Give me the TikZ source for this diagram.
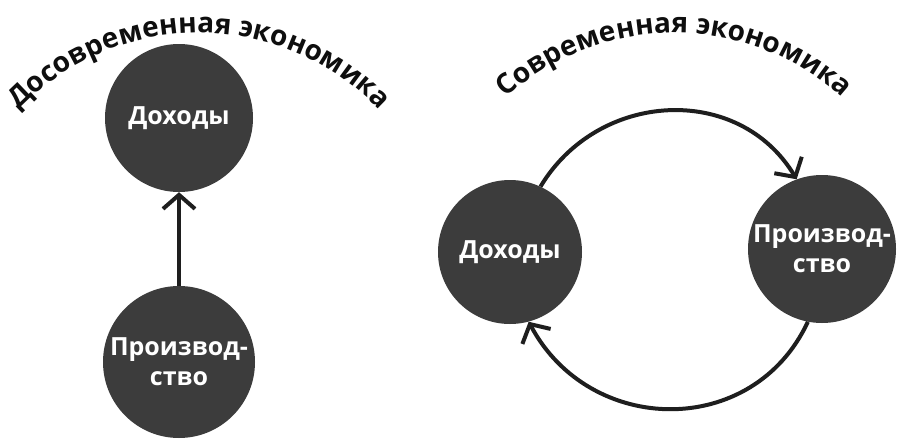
\documentclass[tikz,border=0pt]{standalone}
\usepackage{fontspec}
\setmainfont{Open Sans}
\usetikzlibrary{arrows.meta,decorations.text}
\definecolor{circlegray}{HTML}{3C3C3C}
\definecolor{arrowgray}{HTML}{1E1E1E}
\definecolor{titlegray}{HTML}{0E0E0E}
\def\titlerad{250}
\def\titlesize{\fontsize{28}{30}\selectfont\bfseries}
\def\labelsize{\fontsize{25}{30}\selectfont\bfseries}

\begin{document}
\begin{tikzpicture}[x=1pt,y=1pt]
    \tikzset{%
      econ/.style={%
        circle, fill=circlegray, text=white, align=center, inner sep=0pt,
        minimum size=#1, font=\labelsize},
      flow/.style={%
        line width=4pt, draw=arrowgray, -{Straight Barb[length=14pt,width=32pt]}}}

    \fill[white] (0,0) rectangle (900,-442);
    \useasboundingbox (0,0) rectangle (900,-442);

    % titles along arcs
    \path[decorate, decoration={text along path, text align=center,
      text={|\titlesize\color{titlegray}|Досовременная экономика}}]
      (199,-283) ++(170:\titlerad) arc[start angle=170, end angle=10, radius=\titlerad];
    \path[decorate, decoration={text along path, text align=center,
      text={|\titlesize\color{titlegray}|Современная экономика}}]
      (674,-283) ++(170:\titlerad) arc[start angle=170, end angle=10, radius=\titlerad];

    \node[econ=148pt] (dohodA) at (179,-118) {Доходы};
    \node[econ=152pt] (proizvA) at (179,-362) {Производ-\\ство};
    \node[econ=144pt] (dohodB) at (510,-252) {Доходы};
    \node[econ=148pt] (proizvB) at (822,-249) {Производ-\\ство};

    \draw[flow] (proizvA) -- (dohodA);
    \draw[flow] (dohodB.65) to[out=59,in=121,looseness=1.12] (proizvB.110);
    \draw[flow] (proizvB.259) to[out=-115,in=-62,looseness=1.19] (dohodB.285);
  \end{tikzpicture}
\end{document}
